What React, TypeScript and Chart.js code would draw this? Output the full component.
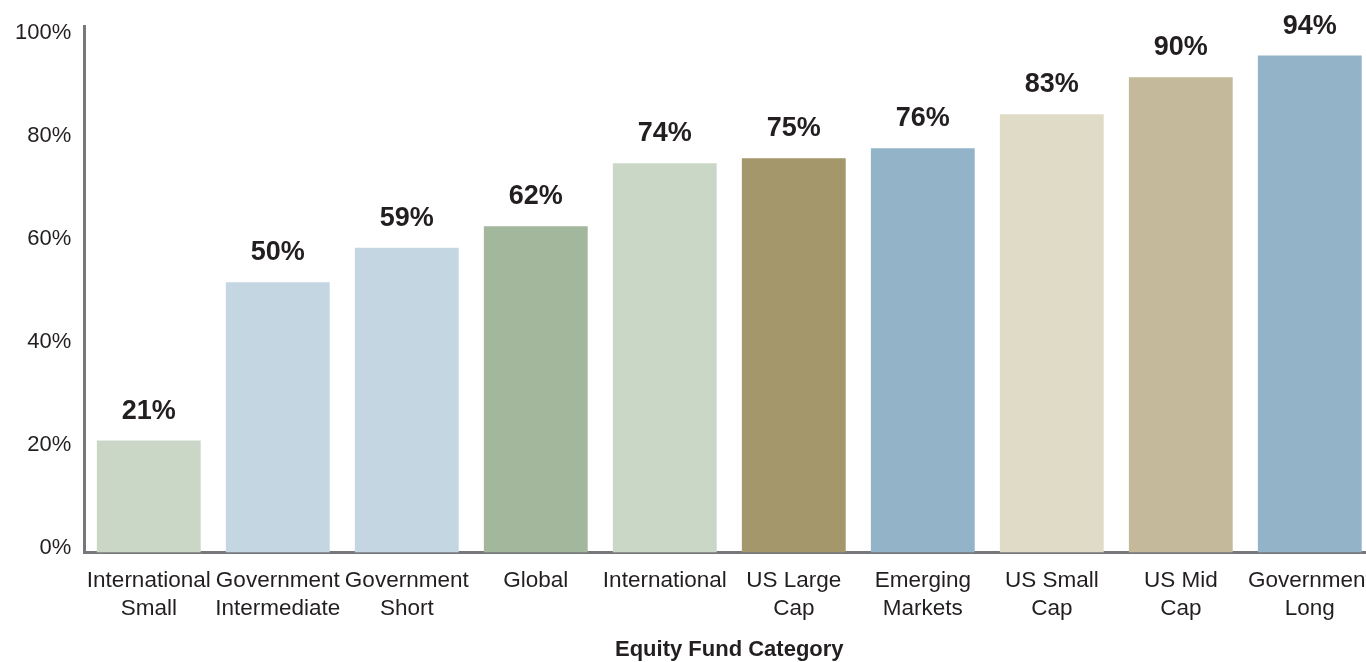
import React, { useEffect, useRef } from 'react';
import { Chart, registerables } from 'chart.js';

Chart.register(...registerables);

const categories: string[][] = [
  ['International', 'Small'],
  ['Government', 'Intermediate'],
  ['Government', 'Short'],
  ['Global'],
  ['International'],
  ['US Large', 'Cap'],
  ['Emerging', 'Markets'],
  ['US Small', 'Cap'],
  ['US Mid', 'Cap'],
  ['Government', 'Long'],
];
const values: number[] = [20.9, 51.6, 58.3, 62.5, 74.7, 75.7, 77.6, 84.2, 91.4, 95.6];
const valueLabels: string[] = ['21%', '50%', '59%', '62%', '74%', '75%', '76%', '83%', '90%', '94%'];
const barColors: string[] = [
  '#cad7c6', '#c4d6e2', '#c4d6e2', '#a2b79b', '#cad7c6',
  '#a4976b', '#93b4c8', '#e0dbc7', '#c4b99b', '#93b4c8',
];
const yTickValues: number[] = [0, 20, 40, 60, 80, 100];
const axisTitle = 'Equity Fund Category';

const FONT = '"Liberation Sans", Arial, Helvetica, sans-serif';
const TEXT = '#231f20';
const Y_MIN = -0.84;
const Y_MAX = 101.3;

const labelPlugin = {
  id: 'valueLabels',
  afterDatasetsDraw(chart: any) {
    const ctx = chart.ctx;
    const meta = chart.getDatasetMeta(0);
    ctx.save();
    ctx.font = `bold 27px ${FONT}`;
    ctx.fillStyle = TEXT;
    ctx.textAlign = 'center';
    ctx.textBaseline = 'middle';
    meta.data.forEach((bar: any, i: number) => {
      ctx.fillText(valueLabels[i], bar.x, bar.y - 29.5);
    });
    ctx.restore();
  },
};

export default function App() {
  const ref = useRef<HTMLCanvasElement>(null);
  useEffect(() => {
    if (!ref.current) return;
    const chart = new Chart(ref.current, {
      type: 'bar',
      data: {
        labels: categories,
        datasets: [
          {
            data: values,
            backgroundColor: barColors,
            borderWidth: 0,
            base: Y_MIN,
            barPercentage: 0.805,
            categoryPercentage: 1,
          } as any,
        ],
      },
      options: {
        responsive: false,
        animation: false,
        layout: { padding: { left: 2, right: 6, top: 25, bottom: -1 } },
        plugins: {
          legend: { display: false },
          tooltip: { enabled: false },
        },
        scales: {
          x: {
            grid: { display: false, drawTicks: false },
            border: { display: true, color: '#77787b', width: 3 },
            ticks: {
              autoSkip: false,
              maxRotation: 0,
              minRotation: 0,
              padding: 14,
              color: TEXT,
              font: { family: FONT, size: 22.5, lineHeight: 28 / 22.5 },
            },
            title: {
              display: true,
              text: axisTitle,
              color: TEXT,
              font: { family: FONT, size: 22, weight: 'bold', lineHeight: 1.2 },
              padding: { top: 0, bottom: 0 },
            },
          },
          y: {
            min: Y_MIN,
            max: Y_MAX,
            grid: { display: false, drawTicks: false },
            border: { display: true, color: '#77787b', width: 3 },
            afterBuildTicks: (scale: any) => {
              scale.ticks = yTickValues.map((v) => ({ value: v }));
            },
            ticks: {
              padding: 13,
              color: TEXT,
              font: { family: FONT, size: 22 },
              callback: (v: any) => `${v}%`,
            },
          },
        },
      },
      plugins: [labelPlugin],
    });
    return () => chart.destroy();
  }, []);
  return (
    <div style={{ position: 'fixed', left: 0, top: 0, width: 1366, height: 662, overflow: 'hidden', background: '#fff' }}>
      <canvas ref={ref} width={1386} height={662} style={{ display: 'block' }} />
    </div>
  );
}
